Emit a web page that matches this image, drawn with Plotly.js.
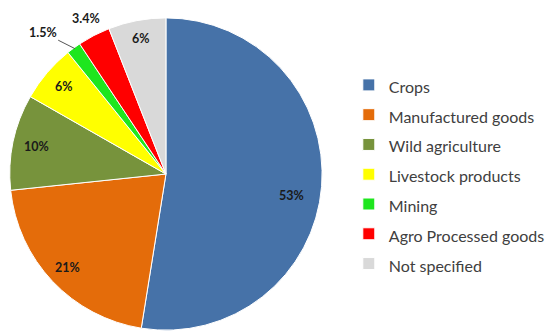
<!DOCTYPE html>
<html><head><meta charset="utf-8">
<script src="https://cdn.plot.ly/plotly-3.0.1.min.js"></script>
<style>html,body{margin:0;padding:0;background:#fff;}#chart{width:550px;height:335px;}</style>
</head><body><div id="chart"></div>
<script>
var categories = ["Crops","Manufactured goods","Wild agriculture","Livestock products","Mining","Agro Processed goods","Not specified"];
var values = [53, 21, 10, 6, 1.5, 3.4, 6];
var valueLabels = ["53%","21%","10%","6%","1.5%","3.4%","6%"];
var colors = ["#4672A8","#E46C0A","#77933C","#FFFF00","#1EE61E","#FF0000","#D9D9D9"];

// label placement styling (fraction of radius, angle nudge in degrees, leader line)
var labelRadius = [0.82, 0.87, 0.85, 0.86, 1.2, 1.12, 0.88];
var labelNudge = [5, 0, 0, 0, -5, 0, 0];
var labelLeader = [false, false, false, false, true, false, false];

var W = 550, H = 335;
var domX = [0.018, 0.591], domY = [0.012, 0.949];

var legendLabels = categories.map(function(c){ return '<span style="font-size:16px">'+c+'</span>'; });

var trace = {
  type: "pie",
  labels: legendLabels,
  values: values,
  textinfo: "none",
  sort: false,
  direction: "clockwise",
  rotation: 0,
  marker: {colors: colors, line: {color: "#ffffff", width: 1}},
  hoverinfo: "none",
  automargin: false,
  domain: {x: domX, y: domY}
};

// compute label annotations from the data (slice mid-angles)
var total = values.reduce(function(a,b){return a+b;}, 0);
var cxPx = (domX[0]+domX[1])/2*W;
var cyPx = (1-(domY[0]+domY[1])/2)*H;
var R = Math.min((domX[1]-domX[0])*W, (domY[1]-domY[0])*H)/2;
var annotations = [];
var cum = 0;
values.forEach(function(v, i){
  var mid = (cum + v/2)/total*360;
  cum += v;
  var th = (mid + labelNudge[i]) * Math.PI/180;
  var r = labelRadius[i]*R;
  var tx = cxPx + r*Math.sin(th), ty = cyPx - r*Math.cos(th);
  var font = {family: "Lato, sans-serif", size: 12.5, color: "#1a1a1a", weight: "bold"};
  if (labelLeader[i]) {
    var pth = mid*Math.PI/180;
    var px = cxPx + 0.99*R*Math.sin(pth), py = cyPx - 0.99*R*Math.cos(pth);
    annotations.push({xref:"paper", yref:"paper", x: px/W, y: 1-py/H,
      ax: tx-px, ay: ty-py, text: valueLabels[i], showarrow: true, arrowhead: 0,
      arrowwidth: 1, arrowcolor: "#555555", standoff: 0, font: font});
  } else {
    annotations.push({xref:"paper", yref:"paper", x: tx/W, y: 1-ty/H,
      xanchor: "center", yanchor: "middle", text: valueLabels[i], showarrow: false, font: font});
  }
});

var layout = {
  width: W, height: H,
  margin: {l: 0, r: 0, t: 0, b: 0},
  paper_bgcolor: "#ffffff",
  showlegend: true,
  annotations: annotations,
  legend: {
    x: 0.64, y: 0.806, xanchor: "left", yanchor: "top",
    font: {family: "Lato, sans-serif", size: 20.6, color: "#404040"},
    bgcolor: "rgba(0,0,0,0)", itemwidth: 30
  }
};
Plotly.newPlot("chart", [trace], layout, {displayModeBar: false, staticPlot: true});
</script></body></html>
